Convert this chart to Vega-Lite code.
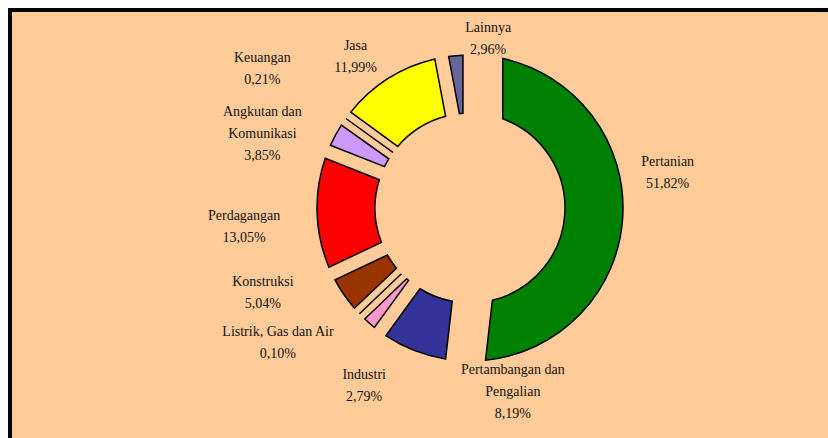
{
  "$schema": "https://vega.github.io/schema/vega-lite/v6.json",
  "background": "#FFCC99",
  "padding": 0,
  "spacing": 0,
  "bounds": "flush",
  "columns": 4,
  "config": {"view": {"stroke": null}},
  "concat": [
    {"width": 8, "height": 8, "data": {"values": []}, "mark": "text", "view": {"fill": "white"}},
    {"width": 4, "height": 8, "data": {"values": []}, "mark": "text", "view": {"fill": "white"}},
    {"width": 100, "height": 8, "data": {"values": []}, "mark": "text", "view": {"fill": "white"}},
    {"width": 716, "height": 8, "data": {"values": []}, "mark": "text", "view": {"fill": "white"}},

    {"width": 8, "height": 4, "data": {"values": []}, "mark": "text", "view": {"fill": "white"}},
    {"width": 4, "height": 4, "data": {"values": []}, "mark": "text", "view": {"fill": "black"}},
    {"width": 100, "height": 4, "data": {"values": []}, "mark": "text", "view": {"fill": "black"}},
    {"width": 716, "height": 4, "data": {"values": []}, "mark": "text", "view": {"fill": "black"}},

    {"width": 8, "height": 392, "data": {"values": []}, "mark": "text", "view": {"fill": "white"}},
    {"width": 4, "height": 392, "data": {"values": []}, "mark": "text", "view": {"fill": "black"}},
    {"width": 100, "height": 392, "data": {"values": []}, "mark": "text"},
    {
      "width": 716,
      "height": 392,
      "data": {
        "values": [
          {"sektor": "Pertanian", "nilai": 51.82, "label": "Pertanian\n51,82%"},
          {"sektor": "Pertambangan dan Pengalian", "nilai": 8.19, "label": "Pertambangan dan\nPengalian\n8,19%"},
          {"sektor": "Industri", "nilai": 2.79, "label": "Industri\n2,79%"},
          {"sektor": "Listrik, Gas dan Air", "nilai": 0.10, "label": "Listrik, Gas dan Air\n0,10%"},
          {"sektor": "Konstruksi", "nilai": 5.04, "label": "Konstruksi\n5,04%"},
          {"sektor": "Perdagangan", "nilai": 13.05, "label": "Perdagangan\n13,05%"},
          {"sektor": "Angkutan dan Komunikasi", "nilai": 3.85, "label": "Angkutan dan\nKomunikasi\n3,85%"},
          {"sektor": "Keuangan", "nilai": 0.21, "label": "Keuangan\n0,21%"},
          {"sektor": "Jasa", "nilai": 11.99, "label": "Jasa\n11,99%"},
          {"sektor": "Lainnya", "nilai": 2.96, "label": "Lainnya\n2,96%"}
        ]
      },
      "transform": [{"window": [{"op": "row_number", "as": "urutan"}]}],
      "layer": [
        {
          "mark": {"type": "arc", "radius": 153, "radius2": 95, "padAngle": 0.078, "stroke": "black", "strokeWidth": 1.5},
          "encoding": {
            "theta": {"field": "nilai", "type": "quantitative", "stack": true},
            "order": {"field": "urutan", "type": "quantitative"},
            "color": {
              "field": "sektor", "type": "nominal", "legend": null,
              "scale": {
                "domain": ["Pertanian", "Pertambangan dan Pengalian", "Industri", "Listrik, Gas dan Air", "Konstruksi", "Perdagangan", "Angkutan dan Komunikasi", "Keuangan", "Jasa", "Lainnya"],
                "range": ["#008000", "#333399", "#FF99CC", "#CCFFFF", "#993300", "#FF0000", "#CC99FF", "#800000", "#FFFF00", "#666699"]
              }
            },
            "opacity": {"condition": {"test": "datum.sektor === 'Pertanian'", "value": 0}, "value": 1}
          }
        },
        {
          "mark": {"type": "arc", "radius": 153, "radius2": 95, "padAngle": 0.366, "stroke": "black", "strokeWidth": 1.5},
          "encoding": {
            "theta": {"field": "nilai", "type": "quantitative", "stack": true},
            "order": {"field": "urutan", "type": "quantitative"},
            "color": {"field": "sektor", "type": "nominal", "legend": null},
            "opacity": {"condition": {"test": "datum.sektor === 'Pertanian'", "value": 1}, "value": 0}
          }
        },
        {
          "transform": [{"filter": "datum.urutan <= 1"}],
          "mark": {"type": "text", "radius": 198, "dy": -57, "align": "center", "baseline": "middle", "font": "Liberation Serif", "lineHeight": 22, "lineBreak": "\n", "color": "#111111"},
          "encoding": {
            "theta": {"field": "nilai", "type": "quantitative", "stack": true},
            "order": {"field": "urutan", "type": "quantitative"},
            "size": {"condition": {"test": "datum.urutan === 1", "value": 14}, "value": 0},
            "text": {"condition": {"test": "datum.urutan === 1", "field": "label", "type": "nominal"}, "value": ""}
          }
        },
        {
          "transform": [{"filter": "datum.urutan <= 2"}],
          "mark": {"type": "text", "radius": 174, "dx": 106, "align": "center", "baseline": "middle", "font": "Liberation Serif", "lineHeight": 22, "lineBreak": "\n", "color": "#111111"},
          "encoding": {
            "theta": {"field": "nilai", "type": "quantitative", "stack": true},
            "order": {"field": "urutan", "type": "quantitative"},
            "size": {"condition": {"test": "datum.urutan === 2", "value": 14}, "value": 0},
            "text": {"condition": {"test": "datum.urutan === 2", "field": "label", "type": "nominal"}, "value": ""}
          }
        },
        {
          "transform": [{"filter": "datum.urutan <= 3"}],
          "mark": {"type": "text", "radius": 222, "dx": 40, "align": "center", "baseline": "middle", "font": "Liberation Serif", "lineHeight": 22, "lineBreak": "\n", "color": "#111111"},
          "encoding": {
            "theta": {"field": "nilai", "type": "quantitative", "stack": true},
            "order": {"field": "urutan", "type": "quantitative"},
            "size": {"condition": {"test": "datum.urutan === 3", "value": 14}, "value": 0},
            "text": {"condition": {"test": "datum.urutan === 3", "field": "label", "type": "nominal"}, "value": ""}
          }
        },
        {
          "transform": [{"filter": "datum.urutan <= 4"}],
          "mark": {"type": "text", "radius": 180, "dx": -62, "align": "center", "baseline": "middle", "font": "Liberation Serif", "lineHeight": 22, "lineBreak": "\n", "color": "#111111"},
          "encoding": {
            "theta": {"field": "nilai", "type": "quantitative", "stack": true},
            "order": {"field": "urutan", "type": "quantitative"},
            "size": {"condition": {"test": "datum.urutan === 4", "value": 14}, "value": 0},
            "text": {"condition": {"test": "datum.urutan === 4", "field": "label", "type": "nominal"}, "value": ""}
          }
        },
        {
          "transform": [{"filter": "datum.urutan <= 5"}],
          "mark": {"type": "text", "radius": 130, "dx": -100, "align": "center", "baseline": "middle", "font": "Liberation Serif", "lineHeight": 22, "lineBreak": "\n", "color": "#111111"},
          "encoding": {
            "theta": {"field": "nilai", "type": "quantitative", "stack": true},
            "order": {"field": "urutan", "type": "quantitative"},
            "size": {"condition": {"test": "datum.urutan === 5", "value": 14}, "value": 0},
            "text": {"condition": {"test": "datum.urutan === 5", "field": "label", "type": "nominal"}, "value": ""}
          }
        },
        {
          "transform": [{"filter": "datum.urutan <= 6"}],
          "mark": {"type": "text", "radius": 226, "align": "center", "baseline": "middle", "font": "Liberation Serif", "lineHeight": 22, "lineBreak": "\n", "color": "#111111"},
          "encoding": {
            "theta": {"field": "nilai", "type": "quantitative", "stack": true},
            "order": {"field": "urutan", "type": "quantitative"},
            "size": {"condition": {"test": "datum.urutan === 6", "value": 14}, "value": 0},
            "text": {"condition": {"test": "datum.urutan === 6", "field": "label", "type": "nominal"}, "value": ""}
          }
        },
        {
          "transform": [{"filter": "datum.urutan <= 7"}],
          "mark": {"type": "text", "radius": 201, "dx": -31, "align": "center", "baseline": "middle", "font": "Liberation Serif", "lineHeight": 22, "lineBreak": "\n", "color": "#111111"},
          "encoding": {
            "theta": {"field": "nilai", "type": "quantitative", "stack": true},
            "order": {"field": "urutan", "type": "quantitative"},
            "size": {"condition": {"test": "datum.urutan === 7", "value": 14}, "value": 0},
            "text": {"condition": {"test": "datum.urutan === 7", "field": "label", "type": "nominal"}, "value": ""}
          }
        },
        {
          "transform": [{"filter": "datum.urutan <= 8"}],
          "mark": {"type": "text", "radius": 245, "dx": -9, "dy": -7, "align": "center", "baseline": "middle", "font": "Liberation Serif", "lineHeight": 22, "lineBreak": "\n", "color": "#111111"},
          "encoding": {
            "theta": {"field": "nilai", "type": "quantitative", "stack": true},
            "order": {"field": "urutan", "type": "quantitative"},
            "size": {"condition": {"test": "datum.urutan === 8", "value": 14}, "value": 0},
            "text": {"condition": {"test": "datum.urutan === 8", "field": "label", "type": "nominal"}, "value": ""}
          }
        },
        {
          "transform": [{"filter": "datum.urutan <= 9"}],
          "mark": {"type": "text", "radius": 192, "dx": -12, "align": "center", "baseline": "middle", "font": "Liberation Serif", "lineHeight": 22, "lineBreak": "\n", "color": "#111111"},
          "encoding": {
            "theta": {"field": "nilai", "type": "quantitative", "stack": true},
            "order": {"field": "urutan", "type": "quantitative"},
            "size": {"condition": {"test": "datum.urutan === 9", "value": 14}, "value": 0},
            "text": {"condition": {"test": "datum.urutan === 9", "field": "label", "type": "nominal"}, "value": ""}
          }
        },
        {
          "mark": {"type": "text", "radius": 181, "dx": 35, "align": "center", "baseline": "middle", "font": "Liberation Serif", "lineHeight": 22, "lineBreak": "\n", "color": "#111111"},
          "encoding": {
            "theta": {"field": "nilai", "type": "quantitative", "stack": true},
            "order": {"field": "urutan", "type": "quantitative"},
            "size": {"condition": {"test": "datum.urutan === 10", "value": 14}, "value": 0},
            "text": {"condition": {"test": "datum.urutan === 10", "field": "label", "type": "nominal"}, "value": ""}
          }
        }
      ]
    },

    {"width": 8, "height": 34, "data": {"values": []}, "mark": "text", "view": {"fill": "white"}},
    {"width": 4, "height": 34, "data": {"values": []}, "mark": "text", "view": {"fill": "black"}},
    {"width": 100, "height": 34, "data": {"values": []}, "mark": "text"},
    {"width": 716, "height": 34, "data": {"values": []}, "mark": "text"}
  ]
}
